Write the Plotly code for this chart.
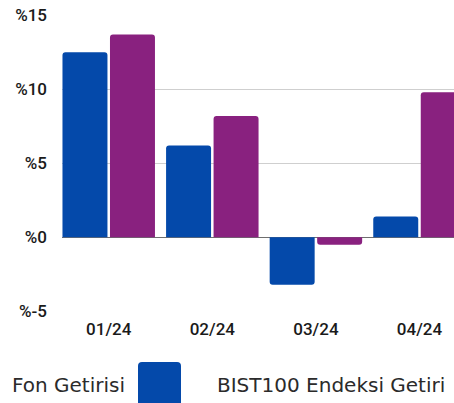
import plotly.graph_objects as go

# Monthly returns (%)
months = ["01/24", "02/24", "03/24", "04/24"]
fund_returns = [12.5, 6.2, -3.2, 1.4]
bist100_returns = [13.7, 8.2, -0.5, 9.8]
series_names = ["Fon Getirisi", "BIST100 Endeksi Getiri"]
series_colors = ["#0449AA", "#89217F"]
y_ticks = [-5, 0, 5, 10, 15]
y_tick_labels = ["%-5", "%0", "%5", "%10", "%15"]

W, H = 454, 403
ML, MR, MT, MB = 62, 0, 15, 91
PW, PH = W - ML - MR, H - MT - MB


def px_x(px):
    return (px - ML) / PW


def px_y(py):
    return (H - MB - py) / PH


fig = go.Figure()
for name, vals, col in zip(series_names, [fund_returns, bist100_returns], series_colors):
    fig.add_trace(go.Bar(
        x=months, y=vals, name=name,
        marker=dict(color=col, cornerradius=3, line=dict(width=0)),
        showlegend=False,
    ))

tick_font = dict(family="Roboto, sans-serif", size=17, color="#1a1a1a", weight=500)

fig.update_layout(
    width=W, height=H,
    margin=dict(l=ML, r=MR, t=MT, b=MB, pad=0),
    paper_bgcolor="white", plot_bgcolor="white",
    barmode="group", bargap=0.083, bargroupgap=0.053,
    xaxis=dict(
        range=[-0.451, 3.333], showgrid=False, showline=False, ticks="",
        tickfont=tick_font, ticklabelstandoff=5,
    ),
    yaxis=dict(
        range=[-5.047, 15.02], tickvals=y_ticks, ticktext=y_tick_labels,
        showgrid=True, gridcolor="#cfcfcf", gridwidth=1,
        zeroline=True, zerolinecolor="#6e6e6e", zerolinewidth=1,
        showline=False, ticks="", tickfont=tick_font, ticklabelstandoff=14,
    ),
)

# Legend row: label followed by its colour swatch
legend_font = dict(family="DejaVu Sans, sans-serif", size=20, color="#2b2b2b")
legend_items = [(series_names[0], 10, 138, series_colors[0]),
                (series_names[1], 215, 462, series_colors[1])]


def rounded_rect(x0, y0, x1, y1, r):
    pts = [
        (x0 + r, y0), (x1 - r, y0), (x1, y0), (x1, y0 + r),
        (x1, y1 - r), (x1, y1), (x1 - r, y1),
        (x0 + r, y1), (x0, y1), (x0, y1 - r),
        (x0, y0 + r), (x0, y0), (x0 + r, y0),
    ]
    p = [(px_x(a), px_y(b)) for a, b in pts]
    return (f"M{p[0][0]},{p[0][1]} L{p[1][0]},{p[1][1]} Q{p[2][0]},{p[2][1]} {p[3][0]},{p[3][1]} "
            f"L{p[4][0]},{p[4][1]} Q{p[5][0]},{p[5][1]} {p[6][0]},{p[6][1]} "
            f"L{p[7][0]},{p[7][1]} Q{p[8][0]},{p[8][1]} {p[9][0]},{p[9][1]} "
            f"L{p[10][0]},{p[10][1]} Q{p[11][0]},{p[11][1]} {p[12][0]},{p[12][1]} Z")


for label, tx, sx, col in legend_items:
    fig.add_annotation(
        text=label, x=px_x(tx), y=px_y(385), xref="paper", yref="paper",
        xanchor="left", yanchor="middle", showarrow=False, font=legend_font,
    )
    fig.add_shape(
        type="path", xref="paper", yref="paper",
        path=rounded_rect(sx, 362, sx + 43, 412, 4),
        fillcolor=col, line=dict(width=0), layer="above",
    )

fig.write_html("out.html")
